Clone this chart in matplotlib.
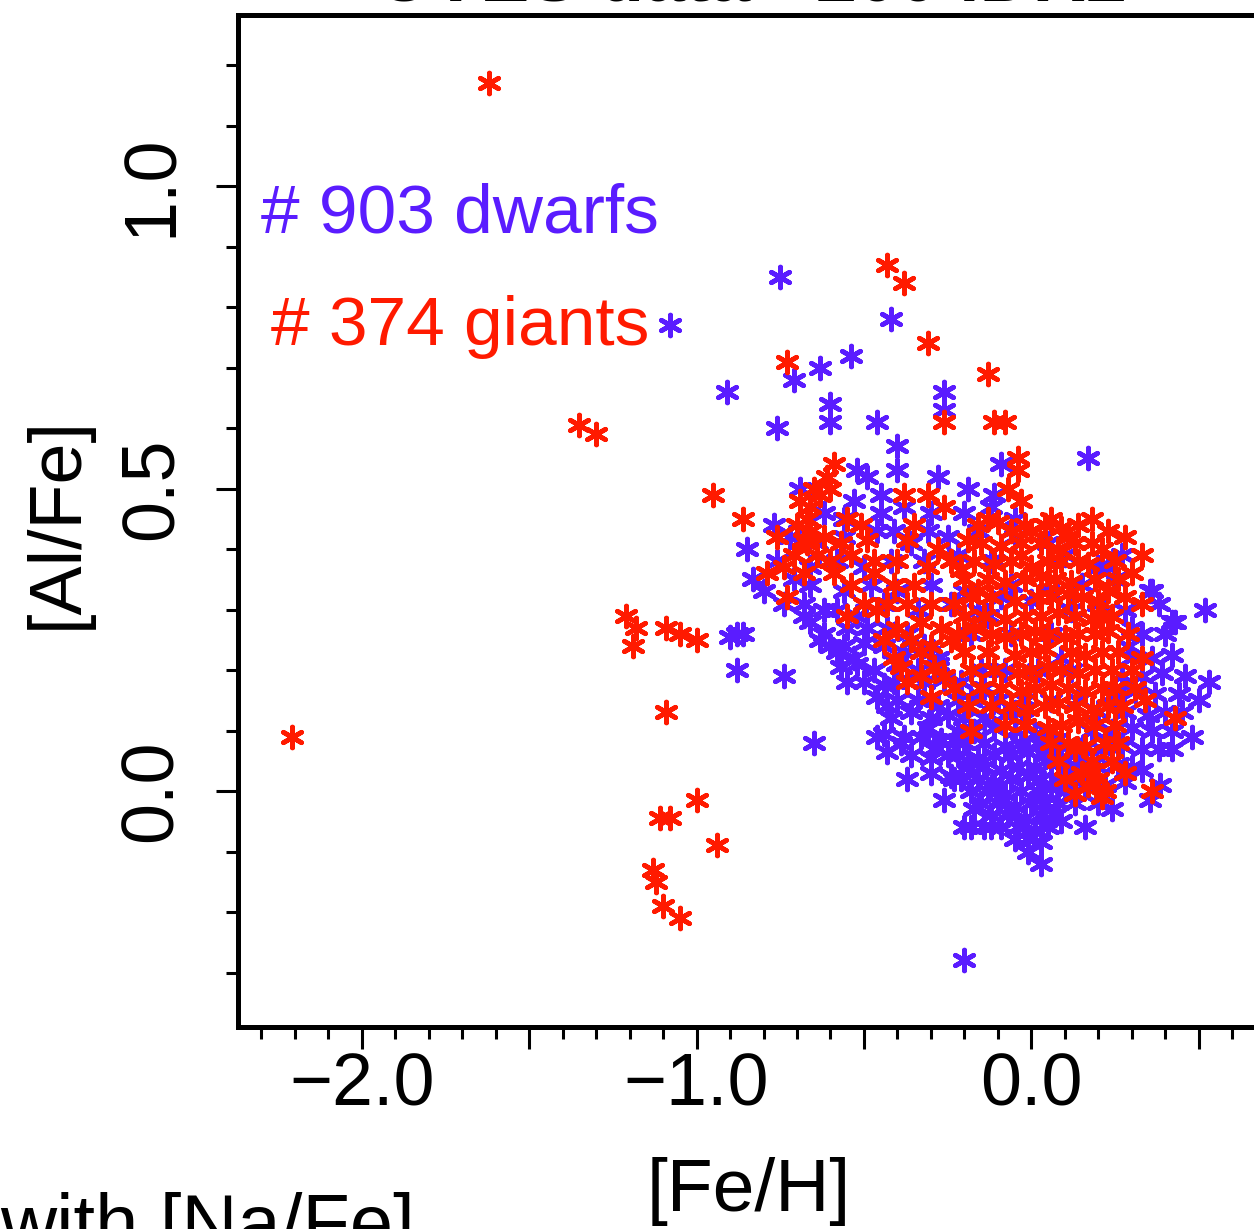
import matplotlib
matplotlib.use("Agg")
import matplotlib.pyplot as plt
import numpy as np
from matplotlib.ticker import MultipleLocator, FuncFormatter

plt.rcParams["font.family"] = ["Liberation Sans", "DejaVu Sans"]

BLUE = "#5a1cff"
RED = "#ff1a00"

# [Fe/H], [Al/Fe]
dwarfs_outer = [
    (-1.08, 0.77), (-0.75, 0.85), (-0.42, 0.78), (-0.91, 0.66), (-0.71, 0.68),
    (-0.63, 0.70), (-0.54, 0.72), (-0.76, 0.60), (-0.60, 0.64), (-0.60, 0.61),
    (-0.46, 0.61), (-0.26, 0.66), (-0.26, 0.63), (-0.40, 0.57), (-0.40, 0.53),
    (0.17, 0.55), (-0.09, 0.54), (-0.28, 0.52), (-0.19, 0.50), (-0.69, 0.50),
    (-0.88, 0.26), (-0.90, 0.255), (-0.86, 0.26), (-0.88, 0.20), (-0.74, 0.19),
    (-0.65, 0.08), (-0.20, -0.28), (0.52, 0.30), (0.43, 0.28), (0.36, 0.33),
    (0.53, 0.18), (-0.77, 0.44), (-0.85, 0.40), (-0.83, 0.35), (-0.11, 0.49),
]

dwarfs_upper = [
    (-0.52, 0.53), (-0.49, 0.52), (-0.53, 0.48), (-0.45, 0.49), (-0.45, 0.46),
    (-0.31, 0.43), (-0.41, 0.43), (-0.46, 0.43), (-0.71, 0.35), (-0.68, 0.29),
    (-0.62, 0.26), (-0.49, 0.27), (-0.58, 0.23), (-0.28, 0.22), (-0.53, 0.22),
    (-0.80, 0.33), (-0.74, 0.31), (-0.66, 0.28), (-0.63, 0.25), (-0.60, 0.24),
    (-0.62, 0.46), (-0.56, 0.45), (-0.38, 0.47), (-0.30, 0.46), (-0.20, 0.46),
    (-0.12, 0.47), (-0.05, 0.45),
    (-0.72, 0.42), (-0.64, 0.41), (-0.56, 0.42), (-0.36, 0.41), (-0.25, 0.42),
    (-0.16, 0.43), (-0.05, 0.42), (0.05, 0.41),
    (-0.76, 0.38), (-0.66, 0.37), (-0.58, 0.38), (-0.50, 0.37), (-0.42, 0.38),
    (-0.32, 0.38), (-0.22, 0.39), (-0.12, 0.38), (0.10, 0.39), (0.20, 0.37),
    (0.23, 0.37), (0.27, 0.39), (-0.11, 0.38),
    (-0.66, 0.34), (-0.56, 0.33), (-0.48, 0.34), (-0.40, 0.33), (-0.30, 0.34),
    (-0.20, 0.33), (-0.06, 0.34), (0.05, 0.33), (0.15, 0.34), (0.25, 0.35),
    (0.355, 0.33),
    (-0.68, 0.31), (-0.62, 0.30), (-0.44, 0.31), (-0.34, 0.30), (-0.24, 0.31),
    (-0.16, 0.30), (-0.09, 0.32), (0.00, 0.315), (0.12, 0.30), (0.20, 0.31),
    (0.28, 0.30), (0.38, 0.31), (-0.13, 0.29),
]

dwarfs_midleft = [
    (-0.58, 0.30), (-0.52, 0.29), (-0.46, 0.30),
    (-0.55, 0.27), (-0.43, 0.27), (-0.37, 0.26),
    (-0.56, 0.24), (-0.50, 0.245), (-0.44, 0.24), (-0.38, 0.23), (-0.32, 0.24),
    (-0.57, 0.205), (-0.52, 0.21), (-0.47, 0.20), (-0.40, 0.21), (-0.34, 0.20),
    (-0.28, 0.21),
    (-0.55, 0.18), (-0.50, 0.18), (-0.44, 0.175), (-0.41, 0.18), (-0.32, 0.18),
    (-0.26, 0.185), (-0.21, 0.18),
    (-0.46, 0.155), (-0.40, 0.15), (-0.34, 0.15), (-0.28, 0.14), (-0.22, 0.15),
    (-0.43, 0.14), (-0.36, 0.13), (-0.42, 0.12), (-0.30, 0.12), (-0.25, 0.125),
    (-0.31, 0.105), (-0.46, 0.09), (-0.44, 0.095), (-0.38, 0.09), (-0.33, 0.09),
    (-0.27, 0.085), (-0.23, 0.085),
    (-0.29, 0.07), (-0.43, 0.065), (-0.39, 0.08), (-0.36, 0.06), (-0.30, 0.055),
    (-0.25, 0.06), (-0.19, 0.05),
    (-0.37, 0.02), (-0.30, 0.03), (-0.24, 0.025), (-0.23, 0.02),
    (-0.26, -0.015), (-0.17, -0.03), (-0.18, -0.06), (-0.20, -0.06), (-0.14, -0.06),
]

dwarfs_core = [
    (-0.20, 0.12), (-0.14, 0.12), (-0.08, 0.125), (-0.02, 0.12),
    (-0.22, 0.10), (-0.17, 0.10), (-0.11, 0.105), (-0.05, 0.10), (0.01, 0.095),
    (0.05, 0.10),
    (-0.20, 0.08), (-0.14, 0.08), (-0.08, 0.075), (-0.03, 0.08), (0.02, 0.08),
    (0.07, 0.085), (0.11, 0.08),
    (-0.22, 0.06), (-0.16, 0.055), (-0.11, 0.06), (-0.06, 0.06), (-0.01, 0.065),
    (0.04, 0.06), (0.09, 0.055), (0.13, 0.06),
    (-0.19, 0.04), (-0.14, 0.04), (-0.09, 0.035), (-0.04, 0.04), (0.01, 0.04),
    (0.06, 0.045), (0.11, 0.04),
    (-0.21, 0.02), (-0.16, 0.02), (-0.11, 0.015), (-0.06, 0.02), (-0.01, 0.025),
    (0.03, 0.02), (0.08, 0.02), (0.12, 0.02),
    (-0.18, 0.00), (-0.13, 0.00), (-0.08, -0.005), (-0.03, 0.00), (0.02, 0.00),
    (0.06, 0.005), (0.10, 0.00),
    (-0.15, -0.02), (-0.10, -0.02), (-0.05, -0.025), (0.00, -0.02), (0.04, -0.02),
    (0.08, -0.02),
    (-0.12, -0.04), (-0.07, -0.04), (-0.02, -0.045), (0.03, -0.04), (0.07, -0.04),
    (-0.12, -0.06), (-0.09, -0.06), (-0.04, -0.06), (0.01, -0.065), (0.05, -0.06),
    (-0.05, -0.08), (-0.01, -0.08), (0.03, -0.085),
    (-0.01, -0.10), (0.03, -0.12),
]

dwarfs_mid = [
    (-0.18, 0.26), (-0.06, 0.26), (0.06, 0.26), (-0.15, 0.20), (-0.08, 0.20),
    (0.02, 0.20), (0.09, 0.22), (0.12, 0.20), (-0.18, 0.15), (-0.10, 0.15),
    (-0.02, 0.15), (0.06, 0.15), (0.14, 0.15), (-0.14, 0.17), (-0.05, 0.13),
]

dwarfs_right = [
    (0.42, 0.28), (0.30, 0.27), (0.29, 0.24), (0.33, 0.26), (0.40, 0.26),
    (0.30, 0.22), (0.36, 0.22), (0.42, 0.225),
    (0.27, 0.19), (0.33, 0.19), (0.39, 0.195), (0.46, 0.19),
    (0.25, 0.16), (0.31, 0.165), (0.37, 0.16), (0.44, 0.16), (0.50, 0.15),
    (0.20, 0.13), (0.28, 0.13), (0.35, 0.125), (0.40, 0.13), (0.45, 0.13),
    (0.18, 0.10), (0.24, 0.10), (0.30, 0.105), (0.36, 0.10), (0.42, 0.10),
    (0.48, 0.09),
    (0.15, 0.07), (0.21, 0.07), (0.27, 0.075), (0.33, 0.07), (0.38, 0.07),
    (0.42, 0.07),
    (0.14, 0.04), (0.20, 0.04), (0.26, 0.045), (0.30, 0.04), (0.33, 0.035),
    (0.16, 0.01), (0.22, 0.01), (0.28, 0.015), (0.385, 0.01),
    (0.13, -0.02), (0.20, -0.02), (0.24, -0.03), (0.355, -0.015),
    (0.09, -0.05), (0.16, -0.06),
]

giants_outer = [
    (-1.62, 1.17), (-2.21, 0.09), (-1.35, 0.605), (-1.30, 0.59), (-0.95, 0.49),
    (-1.21, 0.29), (-1.18, 0.27), (-1.19, 0.24), (-1.09, 0.27), (-1.05, 0.26),
    (-1.00, 0.25), (-1.09, 0.13), (-1.00, -0.015), (-1.11, -0.045), (-1.08, -0.045),
    (-0.94, -0.09), (-1.13, -0.13), (-1.12, -0.15), (-1.10, -0.19), (-1.05, -0.21),
    (-0.86, 0.45), (-0.73, 0.71), (-0.43, 0.87), (-0.38, 0.84), (-0.31, 0.74),
    (-0.13, 0.69), (-0.26, 0.61), (-0.11, 0.61), (-0.08, 0.61), (-0.04, 0.55),
    (-0.04, 0.53), (0.18, 0.45), (0.33, 0.39), (0.43, 0.12), (0.36, 0.00),
]

giants_left = [
    (-0.59, 0.54), (-0.61, 0.52), (-0.63, 0.49), (-0.60, 0.50), (-0.38, 0.49),
    (-0.31, 0.49), (-0.26, 0.47), (-0.76, 0.42), (-0.67, 0.45), (-0.66, 0.43),
    (-0.67, 0.41), (-0.68, 0.415), (-0.55, 0.45), (-0.51, 0.44), (-0.49, 0.415),
    (-0.54, 0.39), (-0.35, 0.44), (-0.37, 0.415), (-0.28, 0.40), (-0.79, 0.36),
    (-0.74, 0.37), (-0.59, 0.36), (-0.54, 0.34), (-0.47, 0.36), (-0.41, 0.34),
    (-0.35, 0.34), (-0.73, 0.32), (-0.55, 0.29), (-0.46, 0.30), (-0.40, 0.27),
    (-0.33, 0.28), (-0.27, 0.27), (-0.41, 0.22), (-0.33, 0.23), (-0.39, 0.205),
    (-0.37, 0.18), (-0.29, 0.205), (-0.30, 0.155), (-0.23, 0.17),
    (-0.66, 0.47), (-0.70, 0.44), (-0.64, 0.39), (-0.71, 0.39), (-0.62, 0.42),
    (-0.57, 0.41), (-0.60, 0.38), (-0.68, 0.36), (-0.65, 0.50), (-0.69, 0.48),
    (-0.47, 0.38), (-0.40, 0.38), (-0.31, 0.37), (-0.24, 0.38),
    (-0.50, 0.31), (-0.43, 0.31), (-0.37, 0.31), (-0.30, 0.31), (-0.23, 0.31),
    (-0.44, 0.25), (-0.36, 0.25), (-0.30, 0.24), (-0.24, 0.25),
    (-0.26, 0.19), (-0.33, 0.19),
]

giants_main = [
    (-0.19, 0.415), (-0.21, 0.365), (-0.16, 0.33), (-0.17, 0.27), (-0.19, 0.14),
    (-0.18, 0.10), (-0.07, 0.50), (-0.03, 0.48), (0.06, 0.45), (0.23, 0.43),
    (0.18, 0.41), (0.11, 0.42), (0.00, 0.43), (-0.06, 0.43), (-0.13, 0.45),
    (0.14, 0.38), (0.05, 0.38), (-0.03, 0.39), (0.33, 0.31), (0.23, 0.33),
    (0.24, 0.29), (0.33, 0.22),
    (-0.16, 0.44), (-0.10, 0.445), (-0.02, 0.44), (0.04, 0.44), (0.09, 0.435),
    (0.14, 0.44),
    (-0.15, 0.41), (-0.09, 0.405), (-0.03, 0.41), (0.03, 0.41), (0.08, 0.40),
    (0.13, 0.41), (0.21, 0.40),
    (-0.17, 0.38), (-0.11, 0.375), (-0.06, 0.38), (0.00, 0.37), (0.09, 0.38),
    (0.17, 0.375), (0.25, 0.38), (0.28, 0.42),
    (-0.20, 0.35), (-0.13, 0.35), (-0.08, 0.345), (-0.02, 0.35), (0.03, 0.355),
    (0.07, 0.35), (0.12, 0.345), (0.19, 0.35), (0.26, 0.35), (0.30, 0.36),
    (-0.18, 0.32), (-0.12, 0.32), (-0.05, 0.315), (0.02, 0.32), (0.06, 0.32),
    (0.11, 0.325), (0.15, 0.32), (0.20, 0.315), (0.28, 0.32),
    (-0.20, 0.29), (-0.14, 0.29), (-0.08, 0.285), (-0.02, 0.29), (0.03, 0.29),
    (0.08, 0.295), (0.13, 0.29), (0.18, 0.285), (0.21, 0.29),
    (-0.22, 0.26), (-0.12, 0.26), (-0.08, 0.255), (-0.03, 0.26), (0.01, 0.265),
    (0.05, 0.26), (0.10, 0.255), (0.14, 0.26), (0.19, 0.26), (0.23, 0.265),
    (0.29, 0.26),
    (-0.20, 0.23), (-0.13, 0.23), (-0.05, 0.225), (0.00, 0.23), (0.04, 0.235),
    (0.12, 0.23), (0.16, 0.225), (0.21, 0.23), (0.26, 0.23),
    (-0.18, 0.20), (-0.11, 0.20), (-0.04, 0.195), (0.00, 0.20), (0.05, 0.205),
    (0.09, 0.20), (0.14, 0.195), (0.19, 0.20), (0.24, 0.20), (0.30, 0.20),
    (-0.15, 0.17), (-0.09, 0.17), (-0.03, 0.165), (0.01, 0.17), (0.06, 0.175),
    (0.11, 0.17), (0.16, 0.165), (0.21, 0.17), (0.25, 0.17), (0.31, 0.17),
    (-0.12, 0.14), (-0.06, 0.14), (-0.01, 0.135), (0.04, 0.14), (0.08, 0.145),
    (0.13, 0.14), (0.18, 0.135), (0.23, 0.14), (0.27, 0.14), (0.34, 0.15),
    (-0.08, 0.11), (-0.02, 0.11), (0.05, 0.105), (0.09, 0.11), (0.14, 0.115),
    (0.19, 0.11), (0.25, 0.11),
    (0.06, 0.08), (0.11, 0.08), (0.16, 0.075), (0.22, 0.08), (0.26, 0.08),
    (0.08, 0.05), (0.13, 0.07), (0.18, 0.05), (0.24, 0.05),
    (0.10, 0.02), (0.15, 0.03), (0.18, 0.035), (0.20, 0.02), (0.28, 0.03),
    (0.13, -0.005), (0.17, 0.01), (0.21, -0.01), (0.22, 0.00),
]

x_label = "[Fe/H]"
y_label = "[Al/Fe]"
dwarf_text = "# 903 dwarfs"
giant_text = "# 374 giants"
title_text = "UVES data - 200 iDR2"
neighbour_text = "with [Na/Fe]"


def as_xy(*groups):
    pts = np.array([p for g in groups for p in g])
    return pts[:, 0], pts[:, 1]


def x_fmt(v, pos):
    if abs(v - round(v)) > 1e-6:
        return ""
    return f"{v:.1f}".replace("-", "\u2212")


fig = plt.figure(figsize=(12.54, 12.29), dpi=100)
ax = fig.add_axes([0.1898, 0.1644, 0.8595, 0.8234])

asterisk = (6, 2, 0)
dx, dy = as_xy(dwarfs_outer, dwarfs_upper, dwarfs_midleft, dwarfs_core, dwarfs_mid, dwarfs_right)
gx, gy = as_xy(giants_outer, giants_left, giants_main)
ax.scatter(dx, dy, marker=asterisk, s=15 ** 2, linewidths=3.4, color=BLUE, zorder=2)
ax.scatter(gx, gy, marker=asterisk, s=15 ** 2, linewidths=3.4, color=RED, zorder=3)

ax.set_xlim(-2.37, 0.85)
ax.set_ylim(-0.39, 1.283)

ax.xaxis.set_major_locator(MultipleLocator(0.5))
ax.xaxis.set_minor_locator(MultipleLocator(0.1))
ax.yaxis.set_major_locator(MultipleLocator(0.5))
ax.yaxis.set_minor_locator(MultipleLocator(0.1))
ax.xaxis.set_major_formatter(FuncFormatter(x_fmt))
ax.yaxis.set_major_formatter(FuncFormatter(lambda v, p: f"{v:.1f}".replace("-", "\u2212")))

for side in ax.spines.values():
    side.set_linewidth(3.6)
ax.tick_params(which="both", direction="out", width=2.2, top=False, right=False)
ax.tick_params(which="major", length=16, labelsize=53)
ax.tick_params(which="minor", length=8.5)
ax.tick_params(axis="x", which="major", pad=2)
ax.tick_params(axis="y", which="major", pad=21, labelrotation=90)
for lab in ax.get_yticklabels():
    lab.set_va("center")

ax.text(-2.30, 0.924, dwarf_text, color=BLUE, fontsize=50, ha="left", va="baseline")
ax.text(-2.27, 0.737, giant_text, color=RED, fontsize=50, ha="left", va="baseline")

fig.text(749 / 1254, 1 - 1157 / 1229, x_label, fontsize=54, ha="center", va="top")
fig.text(57 / 1254, 0.575, y_label, fontsize=53, rotation=90, ha="center", va="center")
fig.text(0.0, 1 - 1192 / 1229, neighbour_text, fontsize=56, ha="left", va="top")
fig.text(752 / 1254, 0.9995, title_text, fontsize=53, fontweight="bold",
         ha="center", va="baseline")

fig.savefig("out.png", dpi=100)
